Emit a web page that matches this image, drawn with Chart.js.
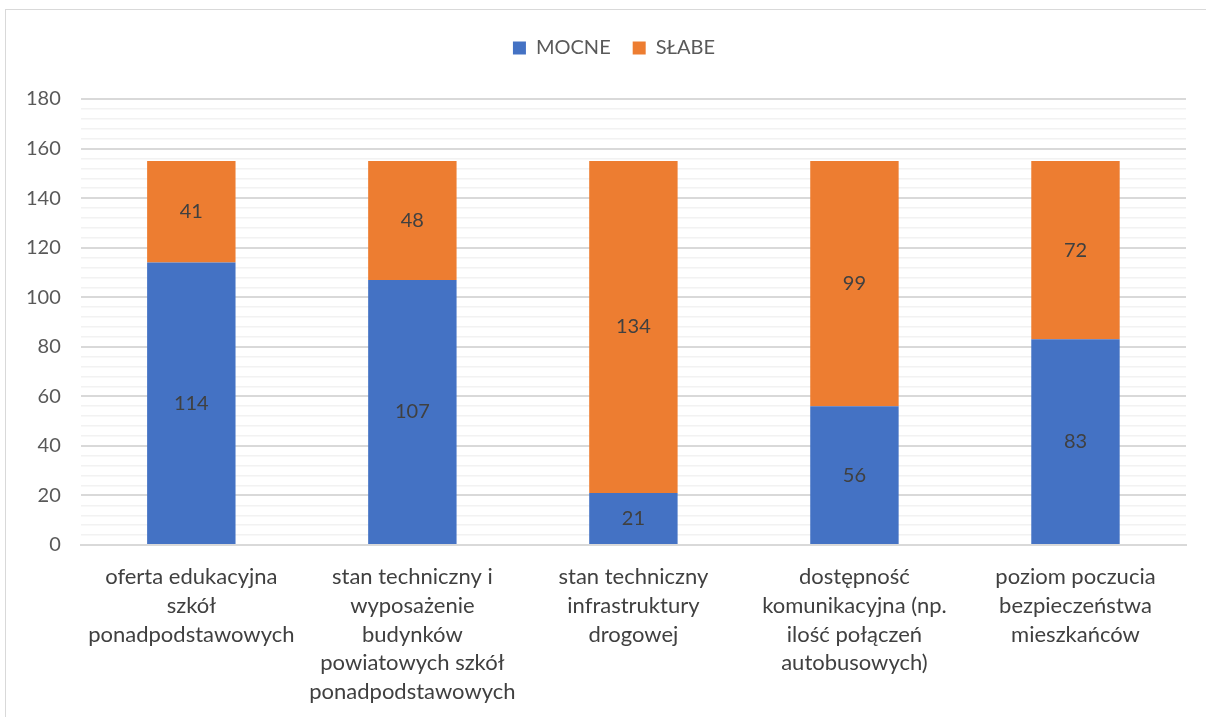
<!DOCTYPE html>
<html><head><meta charset="utf-8">
<script src="https://cdn.jsdelivr.net/npm/chart.js@4.4.0/dist/chart.umd.min.js"></script>
<style>
html,body{margin:0;padding:0;background:#fff;overflow:hidden;}
#wrap{position:absolute;left:5px;top:9px;width:1205px;height:710px;border:1px solid #d9d9d9;box-sizing:border-box;}
canvas{display:block;}
</style></head><body>
<div id="wrap"><canvas id="c"></canvas></div>
<script>
const categories = [
  ["oferta edukacyjna","szkół","ponadpodstawowych"],
  ["stan techniczny i","wyposażenie","budynków","powiatowych szkół","ponadpodstawowych"],
  ["stan techniczny","infrastruktury","drogowej"],
  ["dostępność","komunikacyjna (np.","ilość połączeń","autobusowych)"],
  ["poziom poczucia","bezpieczeństwa","mieszkańców"]
];
const mocne = [114, 107, 21, 56, 83];
const slabe = [41, 48, 134, 99, 72];
const seriesNames = ["MOCNE", "SŁABE"];

const FONT = "Lato, 'Open Sans', sans-serif";
const labelPlugin = {
  id: 'vals',
  afterDatasetsDraw(chart) {
    const ctx = chart.ctx;
    ctx.save();
    ctx.font = "20px " + FONT;
    ctx.fillStyle = "#404040";
    ctx.textAlign = "center";
    ctx.textBaseline = "middle";
    chart.data.datasets.forEach((ds, i) => {
      chart.getDatasetMeta(i).data.forEach((bar, j) => {
        const y = (bar.y + bar.base) / 2;
        ctx.fillText(String(ds.data[j]), bar.x, y);
      });
    });
    ctx.restore();
  }
};
const legendGap = {
  id: 'legendGap',
  afterInit(chart) {
    const lg = chart.legend;
    const orig = lg.fit;
    lg.fit = function () { orig.call(this); this.height += 31; };
  },
  afterLayout(chart) {
    chart.legend.left += 18;
    chart.legend.right += 18;
  }
};

new Chart(document.getElementById('c'), {
  type: 'bar',
  data: {
    labels: categories,
    datasets: [
      { label: seriesNames[0], data: mocne, backgroundColor: '#4472c4', categoryPercentage: 1, barPercentage: 0.4 },
      { label: seriesNames[1], data: slabe, backgroundColor: '#ed7d31', categoryPercentage: 1, barPercentage: 0.4 }
    ]
  },
  options: {
    responsive: true,
    maintainAspectRatio: false,
    animation: false,
    layout: { padding: { left: 0, right: 23, top: 6, bottom: 2 } },
    plugins: {
      legend: {
        position: 'top',
        labels: { font: { family: FONT, size: 20 }, color: '#595959', boxWidth: 13, boxHeight: 13, padding: 22 }
      },
      tooltip: { enabled: false }
    },
    scales: {
      x: {
        stacked: true,
        grid: { display: false },
        border: { color: '#d9d9d9', width: 2 },
        ticks: { font: { family: FONT, size: 22, lineHeight: 1.3 }, color: '#404040', maxRotation: 0, autoSkip: false, padding: 10 }
      },
      y: {
        stacked: true,
        min: 0, max: 180,
        border: { display: false },
        grid: {
          color: (c) => (c.tick && c.tick.value % 20 === 0) ? '#d9d9d9' : '#f2f2f2',
          lineWidth: (c) => (c.tick && c.tick.value % 20 === 0) ? 2 : 1.5,
          drawTicks: false
        },
        ticks: {
          stepSize: 4,
          autoSkip: false,
          font: { family: FONT, size: 20 },
          color: '#595959',
          padding: 20,
          callback: (v) => (v % 20 === 0 ? v : '')
        }
      }
    }
  },
  plugins: [labelPlugin, legendGap]
});
</script>
</body></html>
